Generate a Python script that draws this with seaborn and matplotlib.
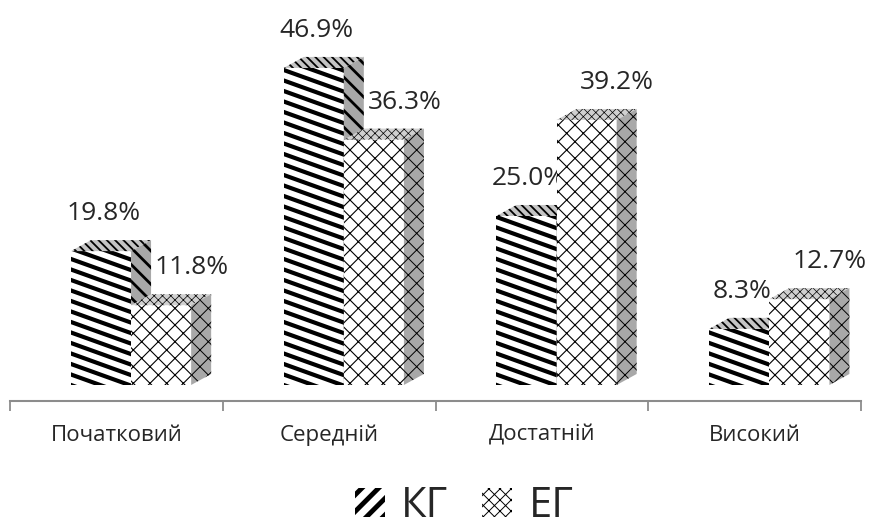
import numpy as np
import pandas as pd
import seaborn as sns
import matplotlib.pyplot as plt
from matplotlib.patches import Polygon, Patch
from matplotlib.collections import LineCollection
from matplotlib.transforms import IdentityTransform

categories = ["Початковий", "Середній", "Достатній", "Високий"]
groups = ["КГ", "ЕГ"]
kg_values = [19.8, 46.9, 25.0, 8.3]
eg_values = [11.8, 36.3, 39.2, 12.7]

df = pd.DataFrame({
    "level": categories * 2,
    "group": [groups[0]] * 4 + [groups[1]] * 4,
    "value": kg_values + eg_values,
})

sns.set_style("white")
plt.rcParams["font.family"] = ["Open Sans", "DejaVu Sans"]
plt.rcParams["hatch.color"] = "black"

fig = plt.figure(figsize=(8.72, 5.28), dpi=100)
ax = fig.add_axes([10 / 872, 127 / 528, 851 / 872, 401 / 528])

sns.barplot(data=df, x="level", y="value", hue="group", order=categories,
            hue_order=groups, width=0.565, palette=["white", "white"],
            saturation=1, linewidth=0, legend=False, ax=ax)

ax.set_xlim(-0.569, 3.431)
ax.set_ylim(-2.37, 56.95)

# depth of the pseudo 3d boxes, in pixels -> data units
px_x = 851 / 4.0
px_y = 401 / (56.95 + 2.37)
dx, dy = 20 / px_x, 11 / px_y

grey = "#a8a8a8"


def set_hlw(p, lw):
    if hasattr(p, "set_hatch_linewidth"):
        p.set_hatch_linewidth(lw)


def hatched(poly, face, hatch, lw, z):
    plt.rcParams["hatch.linewidth"] = lw
    p = Polygon(poly, closed=True, facecolor=face, edgecolor="black",
                linewidth=0, hatch=hatch, zorder=z)
    set_hlw(p, lw)
    ax.add_patch(p)
    return p


def stripes(patch, slope, step, lw, z):
    # slanted thick stripes clipped to the bar front
    bb = patch.get_window_extent(renderer=fig.canvas.get_renderer())
    x0, x1, y0, y1 = bb.x0, bb.x1, bb.y0, bb.y1
    segs = []
    b = y0
    while b < y1 + slope * (x1 - x0) + step:
        segs.append([(x0 - 5, b + 5 * slope), (x1 + 5, b - slope * (x1 - x0 + 5))])
        b += step
    lc = LineCollection(segs, colors="black", linewidths=lw,
                        transform=IdentityTransform(), zorder=z)
    ax.add_collection(lc)
    lc.set_clip_path(patch)


fig.canvas.draw()

for gi, cont in enumerate(ax.containers):
    z = 2 + gi * 3
    vals = kg_values if gi == 0 else eg_values
    for bar, v in zip(cont.patches, vals):
        bar.set_zorder(z)
        x0 = bar.get_x()
        x1 = x0 + bar.get_width()
        h = bar.get_height()
        top = [(x0, h), (x1, h), (x1 + dx, h + dy), (x0 + dx, h + dy)]
        side = [(x1, 0), (x1, h), (x1 + dx, h + dy), (x1 + dx, dy)]
        if gi == 0:
            stripes(bar, 0.36, 10.5, 3.0, z + 0.1)
            hatched(top, "#c4c4c4", "\\\\\\\\", 1.3, z + 0.2)
            hatched(side, grey, "\\\\", 2.0, z + 0.2)
            ax.annotate(f"{v:.1f}%", (x0 + bar.get_width() / 2, h + dy),
                        xytext=(2, 10), textcoords="offset points",
                        ha="center", va="bottom", fontsize=19)
        else:
            bar.set_hatch("xx")
            bar.set_edgecolor("black")
            set_hlw(bar, 0.8)
            hatched(top, "#d0d0d0", "xxxx", 0.5, z + 0.2)
            hatched(side, grey, "xx", 0.7, z + 0.2)
            ax.annotate(f"{v:.1f}%", (x0 + bar.get_width() / 2, h + dy),
                        xytext=(22, 10), textcoords="offset points",
                        ha="center", va="bottom", fontsize=19)

sns.despine(ax=ax, left=True, top=True, right=True)
ax.spines["bottom"].set_color("#8c8c8c")
ax.spines["bottom"].set_linewidth(1.5)
ax.set_yticks([])
ax.set_xlabel("")
ax.set_ylabel("")
ax.set_xticks(np.arange(5) - 0.569)
ax.set_xticklabels([])
ax.tick_params(axis="x", which="major", direction="out", length=7,
               width=1.3, color="#8c8c8c", bottom=True)
ax.set_xticks(np.arange(4) - 0.069, minor=True)
ax.set_xticklabels(categories, minor=True, fontsize=16)
ax.tick_params(axis="x", which="minor", length=0, pad=17)

h_kg = Patch(facecolor="white", edgecolor="black", linewidth=0, hatch="//")
h_eg = Patch(facecolor="white", edgecolor="black", linewidth=0, hatch="xxx")
leg = fig.legend([h_kg, h_eg], groups, loc="center",
                 bbox_to_anchor=(464 / 872, 1 - 506 / 528),
                 ncol=2, frameon=False, fontsize=30, handlelength=0.72,
                 handleheight=0.7, handletextpad=0.4, columnspacing=0.8,
                 borderpad=0)
lp = leg.get_patches()
set_hlw(lp[0], 3.5)
set_hlw(lp[1], 0.7)

plt.savefig("out.png", dpi=100)
plt.close()
